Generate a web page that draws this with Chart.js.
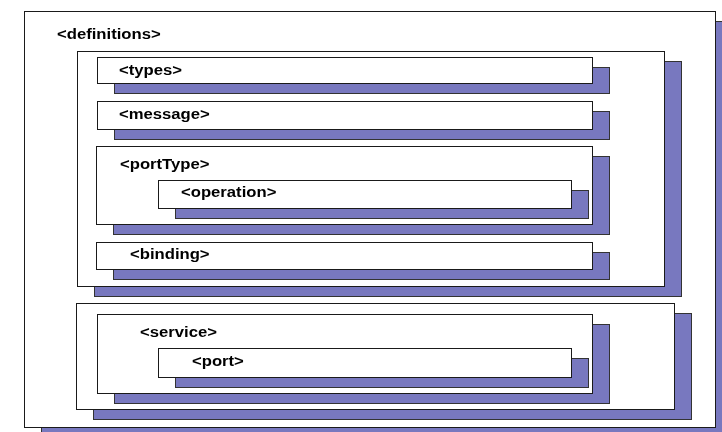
<!DOCTYPE html>
<html>
<head>
<meta charset="utf-8">
<script src="https://cdn.jsdelivr.net/npm/chart.js@4.4.1/dist/chart.umd.min.js"></script>
<style>
  body { margin: 0; background: #fff; }
  #diagramma { display: block; }
</style>
</head>
<body>
<canvas id="diagramma" width="722" height="432"></canvas>
<script>
// Riquadri dello schema WSDL, in ordine di disegno (dal piu esterno)
const nomiRiquadri = ['definitions', 'gruppoAstratto', 'types', 'message', 'portType', 'operation', 'binding', 'gruppoServizio', 'service', 'port'];
const sinistra = [24, 77, 97, 97, 96, 158, 96, 76, 97, 158];
const alto =     [11, 51, 57, 101, 146, 180, 242, 303, 314, 348];
const destra =   [715, 664, 592, 592, 592, 571, 592, 674, 592, 571];
const basso =    [427, 286, 83, 129, 224, 208, 269, 409, 393, 377];

// Etichette (x = inizio testo, y = linea di base)
const etichette = ['<definitions>', '<types>', '<message>', '<portType>', '<operation>', '<binding>', '<service>', '<port>'];
const etichetteX = [57, 119, 119, 120, 181, 130, 140, 192];
const etichetteY = [39, 75, 119, 169, 197, 259, 337, 366];

const OMBRA_DX = 17;
const OMBRA_DY = 10;
const coloreOmbra = '#7878bf';
const coloreBordo = '#1a1a1a';
const allargamentoTesto = 1.19; // il testo originale e' un po' stirato in orizzontale

const pluginRiquadri = {
    id: 'riquadri',
    beforeDatasetsDraw(chart) {
        const ctx = chart.ctx;
        const sx = chart.scales.x;
        const sy = chart.scales.y;
        ctx.save();
        ctx.lineWidth = 1;
        for (let i = 0; i < nomiRiquadri.length; i++) {
            const x0 = Math.round(sx.getPixelForValue(sinistra[i])) + 0.5;
            const x1 = Math.round(sx.getPixelForValue(destra[i])) + 0.5;
            const y0 = Math.round(sy.getPixelForValue(alto[i])) + 0.5;
            const y1 = Math.round(sy.getPixelForValue(basso[i])) + 0.5;
            const dx = Math.round(sx.getPixelForValue(OMBRA_DX) - sx.getPixelForValue(0));
            const dy = Math.round(sy.getPixelForValue(OMBRA_DY) - sy.getPixelForValue(0));
            // ombra
            ctx.fillStyle = coloreOmbra;
            ctx.strokeStyle = '#333';
            ctx.fillRect(x0 + dx, y0 + dy, x1 - x0, y1 - y0);
            ctx.strokeRect(x0 + dx, y0 + dy, x1 - x0, y1 - y0);
            // riquadro bianco
            ctx.fillStyle = '#ffffff';
            ctx.strokeStyle = coloreBordo;
            ctx.fillRect(x0, y0, x1 - x0, y1 - y0);
            ctx.strokeRect(x0, y0, x1 - x0, y1 - y0);
        }
        ctx.fillStyle = '#000';
        ctx.font = 'bold 14px "Liberation Sans", Arial, sans-serif';
        ctx.textBaseline = 'alphabetic';
        ctx.textAlign = 'left';
        for (let i = 0; i < etichette.length; i++) {
            ctx.save();
            ctx.translate(sx.getPixelForValue(etichetteX[i]), sy.getPixelForValue(etichetteY[i]));
            ctx.scale(allargamentoTesto, 1);
            ctx.fillText(etichette[i], 0, 0);
            ctx.restore();
        }
        ctx.restore();
    }
};

new Chart(document.getElementById('diagramma'), {
    type: 'scatter',
    data: { datasets: [{ data: [], pointRadius: 0 }] },
    options: {
        responsive: false,
        animation: false,
        events: [],
        layout: { padding: 0 },
        plugins: { legend: { display: false }, tooltip: { enabled: false } },
        scales: {
            x: { type: 'linear', min: 0, max: 722, display: false },
            y: { type: 'linear', min: 0, max: 432, reverse: true, display: false }
        }
    },
    plugins: [pluginRiquadri]
});
</script>
</body>
</html>
